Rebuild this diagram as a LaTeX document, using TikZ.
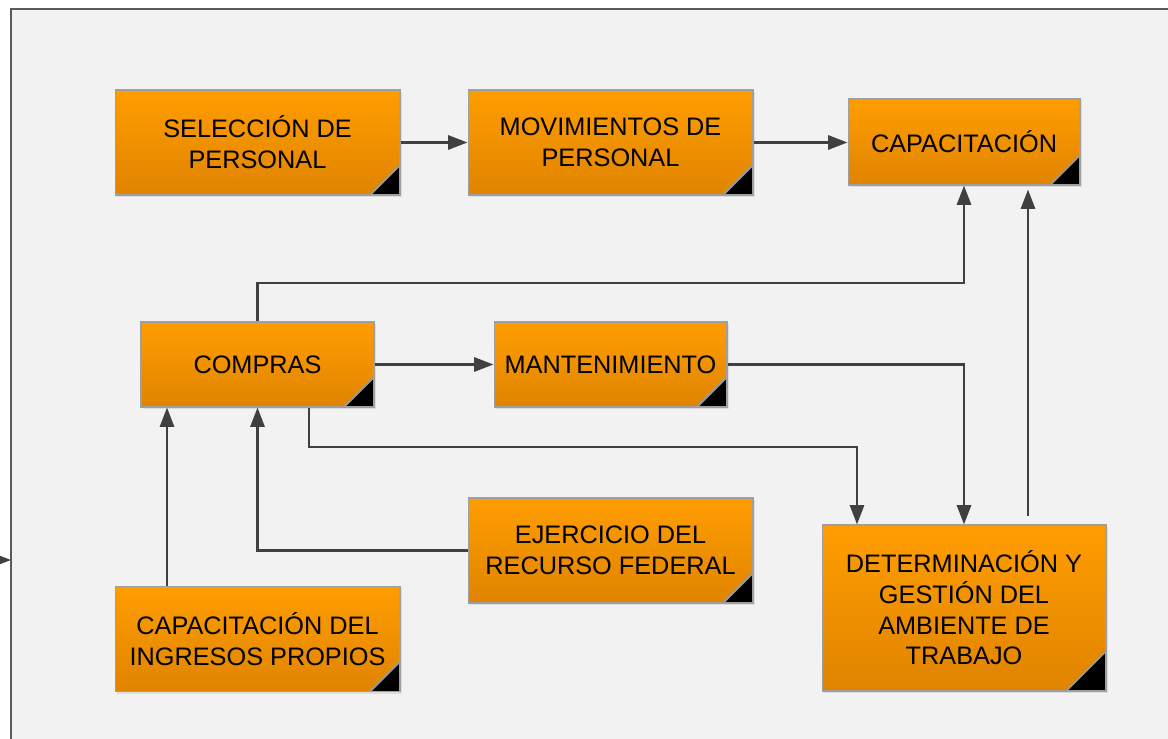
\documentclass[tikz,border=0pt]{standalone}
\usepackage{fontspec}
\setmainfont{Liberation Sans}
\usepackage{xcolor}
\usepackage{tikz}
\usetikzlibrary{arrows.meta, shadows, calc}

\definecolor{cardTop}{HTML}{FF9D00}
\definecolor{cardBot}{HTML}{E08400}
\definecolor{panelFill}{HTML}{F2F2F2}
\definecolor{panelLine}{HTML}{5A5A5A}
\definecolor{flowLine}{HTML}{404040}

\begin{document}
\begin{tikzpicture}[x=0.02cm, y=-0.02cm,
    card/.style={draw=gray!75, line width=0.6pt, top color=cardTop, bottom color=cardBot,
        align=center, inner sep=2pt, font=\fontsize{14.4}{17.5}\selectfont,
        drop shadow={opacity=0.18, shadow xshift=1.2pt, shadow yshift=-1.2pt},
        path picture={
            \fill[black] (path picture bounding box.south east) -- ++(-#1,0) -- ++(#1,#1) -- cycle;
            \draw[gray!80, line width=1.2pt] ([xshift=-#1]path picture bounding box.south east) -- ++(#1,#1);
        }},
    card/.default=0.6cm,
    wide/.style={minimum width=5.7cm, minimum height=2.1cm},
    slim/.style={minimum width=4.66cm, minimum height=1.7cm},
    flow/.style={draw=flowLine, line width=1.5pt, -{Triangle[length=11pt, width=8pt]}}]

    % Panel
    \clip (0,0) rectangle (1168,739);
    \fill[panelFill] (11,9) rectangle (1180,750);
    \draw[panelLine, line width=1.2pt] (11,750) -- (11,9) -- (1180,9);

    % Boxes
    \node[card, wide] (sel) at (257.5,142.5) {SELECCIÓN DE\\PERSONAL};
    \node[card, wide] (mov) at (610.5,142.5) {MOVIMIENTOS DE\\PERSONAL};
    \node[card, minimum width=4.64cm, minimum height=1.72cm] (cap) at (964,142) {CAPACITACIÓN};
    \node[card, slim] (comp) at (257.5,364.5) {COMPRAS};
    \node[card, slim] (mant) at (610.5,364.5) {MANTENIMIENTO};
    \node[card, wide] (ejer) at (610.5,550.5) {EJERCICIO DEL\\RECURSO FEDERAL};
    \node[card=0.8cm, minimum width=5.68cm, minimum height=3.32cm] (amb) at (964,608) {DETERMINACIÓN Y\\GESTIÓN DEL\\AMBIENTE DE\\TRABAJO};
    \node[card, wide] (ing) at (257.5,639) {CAPACITACIÓN DEL\\INGRESOS PROPIOS};

    % Arrows
    \coordinate (inL) at (-30,560);
    \coordinate (inR) at (11,560);
    \coordinate (upTurn) at (964,283);
    \coordinate (lowTurn) at (857,447);

    \draw[flow] (sel) -- (mov);
    \draw[flow] (mov.east) -- (mov.east -| cap.west);
    \draw[flow] (comp.north) |- (upTurn) -- (cap.south);
    \draw[flow] ([xshift=1.28cm,yshift=0.16cm]amb.north) -- ([xshift=1.28cm,yshift=-0.08cm]cap.south);
    \draw[flow] (comp) -- (mant);
    \draw[flow] (mant.east) -| (amb.north);
    \draw[flow] ([xshift=1.03cm]comp.south) |- (lowTurn) -- (lowTurn |- amb.north);
    \draw[flow] (ejer.west) -| (comp.south);
    \draw[flow] ([xshift=-1.81cm]ing.north) -- ([xshift=-1.81cm]comp.south);
    \draw[flow] (inL) -- (inR);

\end{tikzpicture}
\end{document}
